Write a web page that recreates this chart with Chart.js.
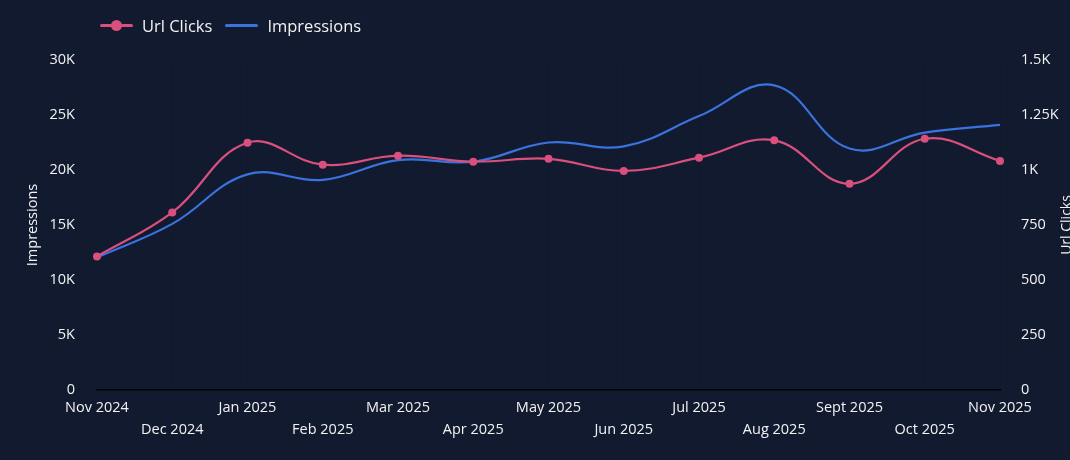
<!DOCTYPE html>
<html>
<head>
<meta charset="utf-8">
<script src="https://cdn.jsdelivr.net/npm/chart.js@4"></script>
<style>
  html, body { margin: 0; padding: 0; background: #111a2e; overflow: hidden; }
  #wrap { position: relative; width: 1070px; height: 460px; }
  #legend {
    position: absolute; left: 100px; top: 14px;
    display: flex; align-items: center;
    font-family: "Open Sans", sans-serif; font-size: 16.5px; color: #f2f2f2;
  }
  .lg-item { display: flex; align-items: center; margin-right: 13px; }
  .lg-mark { position: relative; width: 33px; height: 3px; margin-right: 9px; border-radius: 2px; }
  .lg-mark .dot { position: absolute; left: 11px; top: -4px; width: 11px; height: 11px; border-radius: 50%; }
</style>
</head>
<body>
<div id="wrap">
  <canvas id="chart" width="1070" height="460"></canvas>
  <div id="legend">
    <div class="lg-item"><div class="lg-mark" style="background:#d94f7e"><div class="dot" style="background:#d94f7e"></div></div>Url Clicks</div>
    <div class="lg-item"><div class="lg-mark" style="background:#3a73de"></div>Impressions</div>
  </div>
</div>
<script>
// ---------- Data ----------
const months = ["Nov 2024", "Dec 2024", "Jan 2025", "Feb 2025", "Mar 2025", "Apr 2025", "May 2025",
                "Jun 2025", "Jul 2025", "Aug 2025", "Sept 2025", "Oct 2025", "Nov 2025"];
const urlClicks = [607, 807, 1124, 1024, 1065, 1038, 1051, 996, 1056, 1135, 937, 1142, 1041];
const impressions = [12050, 15100, 19600, 19100, 20900, 20750, 22500, 22150, 24900, 27700, 21950, 23400, 24100];
const impressionTicks = ["0", "5K", "10K", "15K", "20K", "25K", "30K"];
const clickTicks = ["0", "250", "500", "750", "1K", "1.25K", "1.5K"];

const PINK = "#d94f7e";
const BLUE = "#3a73de";
const TEXT = "#f2f2f2";
const FONT = "'Open Sans', sans-serif";

// stagger the month labels over two rows
const xLabels = months.map((m, i) => i % 2 === 0 ? [m] : ["", m]);

// right axis title reads bottom-to-top, drawn by hand
const rightTitle = {
  id: "rightTitle",
  afterDraw(chart) {
    const { ctx, chartArea } = chart;
    ctx.save();
    ctx.translate(1067, (chartArea.top + chartArea.bottom) / 2);
    ctx.rotate(-Math.PI / 2);
    ctx.fillStyle = TEXT;
    ctx.font = "14px " + FONT;
    ctx.textAlign = "center";
    ctx.textBaseline = "middle";
    ctx.fillText("Url Clicks", 0, 0);
    ctx.restore();
  }
};

Chart.defaults.font.family = FONT;
Chart.defaults.color = TEXT;

new Chart(document.getElementById("chart"), {
  type: "line",
  data: {
    labels: xLabels,
    datasets: [
      {
        label: "Url Clicks",
        data: urlClicks,
        yAxisID: "yClicks",
        borderColor: PINK,
        backgroundColor: PINK,
        borderWidth: 2.2,
        pointRadius: 4,
        pointBorderWidth: 0,
        pointBackgroundColor: PINK,
        tension: 0.4
      },
      {
        label: "Impressions",
        data: impressions,
        yAxisID: "yImp",
        borderColor: BLUE,
        backgroundColor: BLUE,
        borderWidth: 2.2,
        pointRadius: 0,
        tension: 0.4
      }
    ]
  },
  options: {
    responsive: false,
    animation: false,
    devicePixelRatio: 1,
    layout: { padding: { top: 60, left: 0, right: 0, bottom: 0 } },
    plugins: { legend: { display: false }, tooltip: { enabled: false } },
    scales: {
      x: {
        offset: false,
        grid: { display: true, color: "rgba(0,0,0,0.06)", drawTicks: false },
        border: { display: true, color: "#000000", width: 1.5 },
        ticks: { autoSkip: false, maxRotation: 0, padding: 7, font: { size: 14.5, lineHeight: 1.5 } },
        afterFit: s => { s.height = 70; }
      },
      yImp: {
        position: "left",
        min: 0, max: 30000,
        grid: { display: false },
        border: { display: false },
        ticks: { stepSize: 5000, padding: 14, font: { size: 14.5 }, callback: (v, i) => impressionTicks[i] },
        title: { display: true, text: "Impressions", font: { size: 14.5 }, padding: { top: 24, bottom: 0 } },
        afterFit: s => { s.width = 97; }
      },
      yClicks: {
        position: "right",
        min: 0, max: 1500,
        grid: { display: false },
        border: { display: false },
        ticks: { stepSize: 250, padding: 13, font: { size: 14.5 }, callback: (v, i) => clickTicks[i] },
        afterFit: s => { s.width = 70; }
      }
    }
  },
  plugins: [rightTitle]
});
</script>
</body>
</html>
